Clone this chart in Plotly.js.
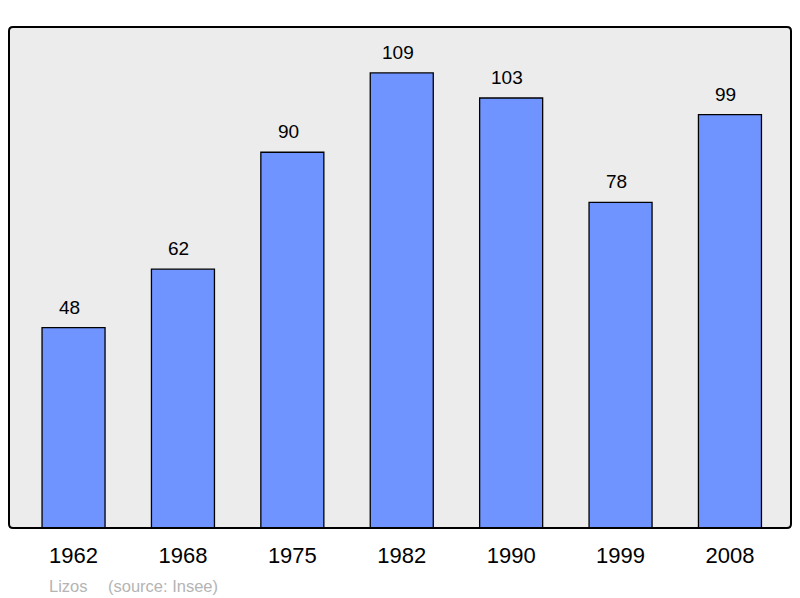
<!DOCTYPE html>
<html>
<head>
<meta charset="utf-8">
<script src="https://cdn.plot.ly/plotly-3.0.1.min.js"></script>
<style>
  html, body { margin: 0; padding: 0; background: #fff; }
  #chart { width: 800px; height: 598px; }
</style>
</head>
<body>
<div id="chart"></div>
<script>
// population by census year
const years = ['1962', '1968', '1975', '1982', '1990', '1999', '2008'];
const population = [48, 62, 90, 109, 103, 78, 99];
const commune = 'Lizos';
const source = '(source: Insee)';

const W = 782, H = 501; // plot area in px, used for the rounded frame
const rx = 4 / W, ry = 4 / H;
const framePath =
    `M ${rx},0 L ${1 - rx},0 Q 1,0 1,${ry} L 1,${1 - ry} Q 1,1 ${1 - rx},1 ` +
    `L ${rx},1 Q 0,1 0,${1 - ry} L 0,${ry} Q 0,0 ${rx},0 Z`;

const trace = {
    type: 'bar',
    x: years,
    y: population,
    width: 0.576,
    marker: {
        color: '#7094ff',
        line: { color: '#000', width: 1.3 }
    },
    hoverinfo: 'x+y'
};

// value labels above each bar (x by category index)
const labels = years.map((yr, i) => ({
    x: i, y: population[i],
    xref: 'x', yref: 'y',
    text: String(population[i]),
    showarrow: false,
    yanchor: 'bottom',
    xshift: -4,
    yshift: 8,
    font: { family: 'Liberation Sans, Arial, sans-serif', size: 19, color: '#000' }
}));

labels.push({
    xref: 'paper', yref: 'paper', x: (47 - 9) / W, y: 0,
    xanchor: 'left', yanchor: 'top', yshift: -47,
    text: commune, showarrow: false,
    font: { family: 'Liberation Sans, Arial, sans-serif', size: 16.5, color: '#b4b4b4' }
});
labels.push({
    xref: 'paper', yref: 'paper', x: (106 - 9) / W, y: 0,
    xanchor: 'left', yanchor: 'top', yshift: -47,
    text: source, showarrow: false,
    font: { family: 'Liberation Sans, Arial, sans-serif', size: 16.5, color: '#b4b4b4' }
});

const layout = {
    width: 800,
    height: 598,
    margin: { l: 9, r: 9, t: 27, b: 70, pad: 0 },
    paper_bgcolor: '#ffffff',
    plot_bgcolor: '#ececec',
    showlegend: false,
    font: { family: 'Liberation Sans, Arial, sans-serif', color: '#000' },
    xaxis: {
        type: 'category',
        range: [-0.59, 6.558],
        showgrid: false, zeroline: false, showline: false,
        ticks: '',
        ticklabelstandoff: 12,
        tickfont: { size: 22, color: '#000' },
        fixedrange: true
    },
    yaxis: {
        range: [0, 120],
        showgrid: false, zeroline: false, showline: false,
        showticklabels: false,
        ticks: '',
        fixedrange: true
    },
    shapes: [{
        type: 'path',
        xref: 'paper', yref: 'paper',
        path: framePath,
        line: { color: '#000', width: 2 },
        layer: 'above'
    }],
    annotations: labels
};

Plotly.newPlot('chart', [trace], layout, { displayModeBar: false, staticPlot: true });
</script>
</body>
</html>
